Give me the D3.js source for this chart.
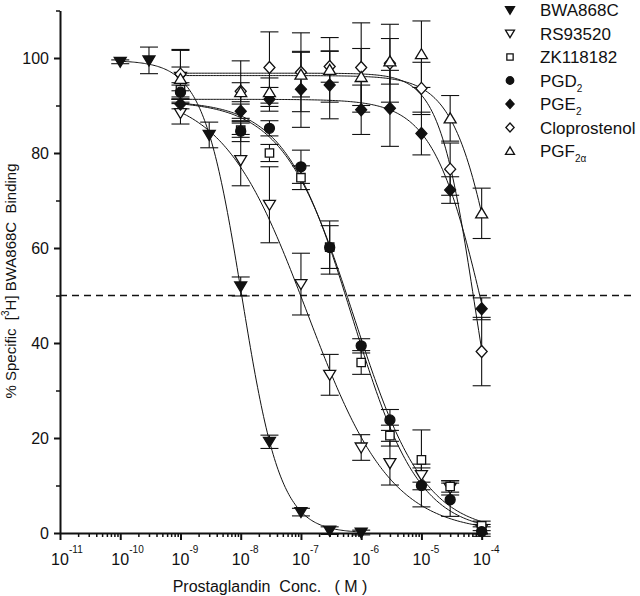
<!DOCTYPE html>
<html>
<head>
<meta charset="utf-8">
<script src="https://cdn.jsdelivr.net/npm/d3@7"></script>
<style>
  body { margin: 0; background: #fff; }
  svg { font-family: "Liberation Sans", Arial, sans-serif; }
  text { white-space: pre; }
</style>
</head>
<body>
<svg id="chart" width="640" height="596"></svg>
<script>

// concentrations (M) used for the six comparison compounds
var concs = [1e-9, 1e-8, 3e-8, 1e-7, 3e-7, 1e-6, 3e-6, 1e-5, 3e-5, 1e-4];

// BWA868C has its own dilution series
var bwaConc = [1e-10, 3e-10, 1e-9, 3e-9, 1e-8, 3e-8, 1e-7, 3e-7, 1e-6];
var bwaMean = [99.2, 99.5, 96.0, 83.8, 51.9, 19.2, 4.4, 0.5, 0.1];
var bwaErr  = [0.4, 2.8, 5.6, 2.7, 2.0, 1.4, 0.8, 0.8, 0.5];

var rsMean   = [88.4, 78.5, 69.1, 52.4, 33.3, 18.0, 14.7, 12.2, 9.5, 0.8];
var rsErr    = [2.3, 5.4, 8.0, 6.5, 4.3, 2.7, 4.6, 1.5, 1.5, 1.0];

var zkMean   = [93.3, 84.8, 80.0, 74.8, 60.2, 35.9, 20.5, 15.4, 9.8, 1.5];
var zkErr    = [1.5, 1.5, 1.8, 2.5, 4.5, 2.5, 2.2, 6.3, 1.2, 1.0];

var pgd2Mean = [92.8, 84.6, 85.2, 77.1, 60.1, 39.4, 23.8, 10.0, 7.0, 0.3];
var pgd2Err  = [1.5, 2.2, 1.6, 3.5, 5.6, 1.5, 2.2, 4.5, 3.5, 1.0];

var pge2Mean = [90.3, 88.8, 91.3, 93.4, 94.3, 89.1, 89.4, 84.1, 72.2, 47.2];
var pge2Err  = [1.0, 1.5, 2.5, 8.0, 7.1, 5.2, 8.0, 4.5, 2.8, 2.3];

var cloMean  = [96.6, 93.0, 98.0, 97.0, 98.2, 98.0, 98.9, 93.6, 76.6, 38.2];
var cloErr   = [5.2, 6.4, 7.5, 8.3, 3.3, 9.4, 8.2, 5.5, 5.5, 7.2];

var pgfMean  = [95.6, 92.8, 92.8, 96.5, 97.5, 96.0, 99.3, 100.8, 87.3, 67.3];
var pgfErr   = [2.5, 2.0, 3.0, 4.7, 6.8, 6.0, 4.8, 7.0, 4.8, 5.3];

// fitted one-site curves, same order as the legend
var seriesNames = ["BWA868C", "RS93520", "ZK118182", "PGD2", "PGE2", "Cloprostenol", "PGF2a"];
var fitTop      = [99.5, 93, 91, 91, 91.3, 96.8, 96.3];
var fitBottom   = [0, 0, 0, 0, 0, 0, 0];
var fitLogIC50  = [-7.98, -6.9, -6.12, -6.15, -3.95, -4.12, -3.69];
var fitHill     = [1.35, 0.62, 0.74, 0.78, 1.02, 1.48, 1.18];

// legend text (main part + subscript)
var legendMain = ["BWA868C", "RS93520", "ZK118182", "PGD", "PGE", "Cloprostenol", "PGF"];
var legendSub  = ["", "", "", "2", "2", "", "2\u03b1"];

var yMajor = [0, 20, 40, 60, 80, 100];
var yMinor = [10, 30, 50, 70, 90, 110];
var xDecades = [-11, -10, -9, -8, -7, -6, -5, -4];


var series = [
    { sym: "triDownFilled", conc: bwaConc, mean: bwaMean, err: bwaErr },
    { sym: "triDownOpen",   conc: concs,   mean: rsMean,   err: rsErr },
    { sym: "squareOpen",    conc: concs,   mean: zkMean,   err: zkErr },
    { sym: "circleFilled",  conc: concs,   mean: pgd2Mean, err: pgd2Err },
    { sym: "diamondFilled", conc: concs,   mean: pge2Mean, err: pge2Err },
    { sym: "diamondOpen",   conc: concs,   mean: cloMean,  err: cloErr },
    { sym: "triUpOpen",     conc: concs,   mean: pgfMean,  err: pgfErr }
];

var svg = d3.select("#chart");
var ink = "#111";

var x = d3.scaleLog().domain([1e-11, 1.25e-4]).range([60, 487.5]);
var y = d3.scaleLinear().domain([0, 110]).range([533, 10.5]);

// marker shapes, s = scale
function symbolPath(type, s) {
    s = s || 1;
    if (type.indexOf("triDown") === 0)
        return "M" + (-6 * s) + "," + (-4.5 * s) + "L" + (6 * s) + "," + (-4.5 * s) + "L0," + (5.5 * s) + "Z";
    if (type.indexOf("triUp") === 0)
        return "M" + (-6 * s) + "," + (4.5 * s) + "L" + (6 * s) + "," + (4.5 * s) + "L0," + (-5.5 * s) + "Z";
    if (type.indexOf("square") === 0) {
        var h = 4.2 * s;
        return "M" + -h + "," + -h + "H" + h + "V" + h + "H" + -h + "Z";
    }
    if (type.indexOf("diamond") === 0)
        return "M0," + (-6 * s) + "L" + (5.5 * s) + ",0L0," + (6 * s) + "L" + (-5.5 * s) + ",0Z";
    // circle
    var r = 5 * s;
    return "M" + r + ",0A" + r + "," + r + " 0 1,1 " + -r + ",0A" + r + "," + r + " 0 1,1 " + r + ",0Z";
}

function isFilled(type) {
    return type.indexOf("Filled") > 0;
}

/********** axes **********/

var yAxis = svg.append("g")
    .attr("transform", "translate(" + x(1e-11) + ",0)")
    .call(d3.axisLeft(y).tickValues(yMajor).tickSize(6).tickSizeOuter(0).tickPadding(5));
yAxis.select(".domain").attr("stroke", ink).attr("stroke-width", 2);
yAxis.selectAll(".tick line").attr("stroke", ink).attr("stroke-width", 2);
yAxis.selectAll(".tick text").attr("fill", ink).style("font-size", "16px")
    .style("font-family", "Liberation Sans, Arial, sans-serif");

var yMinorAxis = svg.append("g")
    .attr("transform", "translate(" + x(1e-11) + ",0)")
    .call(d3.axisLeft(y).tickValues(yMinor).tickSize(4).tickFormat(""));
yMinorAxis.select(".domain").remove();
yMinorAxis.selectAll(".tick line").attr("stroke", ink).attr("stroke-width", 1.5);

var xMinor = [];
xDecades.slice(0, -1).forEach(function (d) {
    for (var k = 2; k <= 9; k++) xMinor.push(k * Math.pow(10, d));
});

var xAxis = svg.append("g")
    .attr("transform", "translate(0," + y(0) + ")")
    .call(d3.axisBottom(x).tickValues(xDecades.map(function (d) { return Math.pow(10, d); }))
        .tickSize(7).tickSizeOuter(0).tickFormat(""));
xAxis.select(".domain").attr("stroke", ink).attr("stroke-width", 2);
xAxis.selectAll(".tick line").attr("stroke", ink).attr("stroke-width", 2);

var xMinorAxis = svg.append("g")
    .attr("transform", "translate(0," + y(0) + ")")
    .call(d3.axisBottom(x).tickValues(xMinor).tickSize(4).tickFormat(""));
xMinorAxis.select(".domain").remove();
xMinorAxis.selectAll(".tick line").attr("stroke", ink).attr("stroke-width", 1.5);

// 10^n labels
var xLab = svg.append("g").attr("fill", ink);
xDecades.forEach(function (d) {
    var px = x(Math.pow(10, d));
    xLab.append("text").attr("x", px).attr("y", 565)
        .attr("text-anchor", "middle").style("font-size", "16px").text("10");
    xLab.append("text").attr("x", px + 9).attr("y", 553)
        .style("font-size", "10px").text(String(d));
});

svg.append("text")
    .attr("x", 270).attr("y", 592)
    .attr("text-anchor", "middle")
    .attr("fill", ink)
    .style("font-size", "16px")
    .text("Prostaglandin  Conc.   ( M )");

var yLabel = svg.append("text")
    .attr("transform", "translate(16,281) rotate(-90)")
    .attr("text-anchor", "middle")
    .attr("fill", ink)
    .style("font-size", "15px");
yLabel.append("tspan").text("% Specific  [");
yLabel.append("tspan").attr("dy", -7).style("font-size", "10px").text("3");
yLabel.append("tspan").attr("dy", 7).text("H] BWA868C  Binding");

// 50% line
svg.append("line")
    .attr("x1", x(1e-11)).attr("x2", 634)
    .attr("y1", y(50)).attr("y2", y(50))
    .attr("stroke", ink).attr("stroke-width", 1.5)
    .attr("stroke-dasharray", "7,5");

/********** curves **********/

var line = d3.line()
    .x(function (d) { return x(d[0]); })
    .y(function (d) { return y(d[1]); });

series.forEach(function (s, i) {
    var lo = Math.log10(s.conc[0]);
    var hi = Math.log10(s.conc[s.conc.length - 1]);
    var pts = d3.range(0, 201).map(function (k) {
        var lx = lo + (hi - lo) * k / 200;
        var v = fitBottom[i] + (fitTop[i] - fitBottom[i]) / (1 + Math.pow(10, (lx - fitLogIC50[i]) * fitHill[i]));
        return [Math.pow(10, lx), v];
    });
    svg.append("path")
        .attr("d", line(pts))
        .attr("fill", "none")
        .attr("stroke", ink)
        .attr("stroke-width", 1);
});

/********** error bars **********/

var capW = 9;
series.forEach(function (s) {
    var g = svg.append("g").attr("stroke", ink).attr("stroke-width", 1.1);
    s.conc.forEach(function (c, j) {
        var px = x(c);
        var top = y(s.mean[j] + s.err[j]);
        var bot = y(Math.max(s.mean[j] - s.err[j], -1));
        g.append("line").attr("x1", px).attr("x2", px).attr("y1", top).attr("y2", bot);
        g.append("line").attr("x1", px - capW).attr("x2", px + capW).attr("y1", top).attr("y2", top);
        g.append("line").attr("x1", px - capW).attr("x2", px + capW).attr("y1", bot).attr("y2", bot);
    });
});

/********** markers **********/

series.forEach(function (s) {
    svg.append("g").selectAll("path")
        .data(s.conc)
        .enter()
        .append("path")
        .attr("transform", function (c, j) { return "translate(" + x(c) + "," + y(s.mean[j]) + ")"; })
        .attr("d", symbolPath(s.sym, 1))
        .attr("fill", isFilled(s.sym) ? ink : "#fff")
        .attr("stroke", ink)
        .attr("stroke-width", 1.3);
});

/********** legend **********/

var legend = svg.append("g").attr("fill", ink);
series.forEach(function (s, i) {
    var ly = 10 + i * 23.5;
    legend.append("path")
        .attr("transform", "translate(510," + ly + ")")
        .attr("d", symbolPath(s.sym, 0.75))
        .attr("fill", isFilled(s.sym) ? ink : "#fff")
        .attr("stroke", ink)
        .attr("stroke-width", 1.3);
    var t = legend.append("text")
        .attr("x", 540).attr("y", ly + 6)
        .style("font-size", "17px")
        .text(legendMain[i]);
    if (legendSub[i]) {
        t.append("tspan").attr("dy", 5).style("font-size", "10px").text(legendSub[i]);
    }
});

</script>
</body>
</html>
